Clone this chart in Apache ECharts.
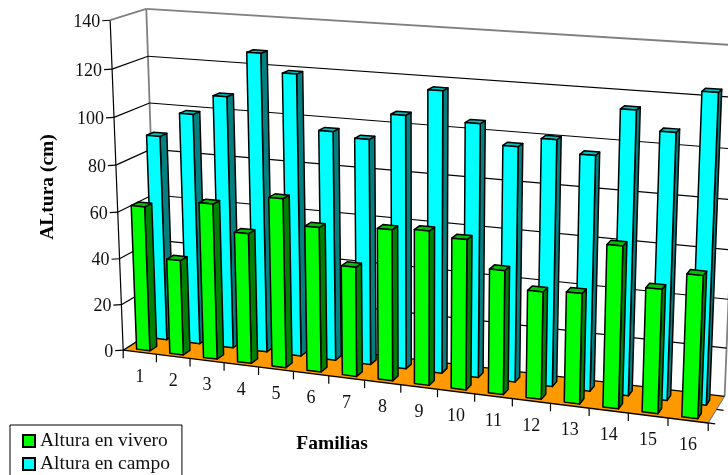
<!DOCTYPE html>
<html>
<head>
<meta charset="utf-8">
<style>html,body{margin:0;padding:0;background:#fff}#main{width:728px;height:475px}</style>
<script src="https://cdn.jsdelivr.net/npm/echarts@6/dist/echarts.min.js"></script>
</head>
<body>
<div id="main"></div>
<script>
// datos
let familias = ['1','2','3','4','5','6','7','8','9','10','11','12','13','14','15','16'];
let vivero = [62.5,41,66.5,55.5,71.5,61,46,63,64,62,51,44,45,65.5,50,57];
let campo = [89,99.5,108,127,119.5,97,95,106,117,105,97,101,96,115,107.5,124];
let yTicks = [0,20,40,60,80,100,120,140];

// escena: u = familias (0-16), d = profundidad (0 delante, 1 fondo), v = altura
let refs = [
    [0,0,0,122.7,350],[0,0,140,110,21],[0,1,140,146,9],[0,1,0,158,329],
    [16,0,0,708.7,422.7],[16,1,0,724,396.7],[16,1,140,739,45.7],
    [5,0,0,293.3,371.2],[10,0,0,474.7,393.7],
    [0,0,100,114.3,117.3],[0,1,100,149.7,102],[16,1,120,737,97.3]
];

// minimos cuadrados para la matriz de perspectiva
function solveCamera() {
    let rows = [];
    refs.forEach(function (r) {
        let u = r[0] / 16, d = r[1], v = r[2] / 140, x = r[3], y = r[4];
        rows.push([u,d,v,1,0,0,0,0,-x*u,-x*d,-x*v,x]);
        rows.push([0,0,0,0,u,d,v,1,-y*u,-y*d,-y*v,y]);
    });
    let n = 11, m = [];
    for (let i = 0; i < n; i++) {
        m.push([]);
        for (let j = 0; j <= n; j++) {
            let s = 0;
            rows.forEach(function (r) { s += r[i] * r[j]; });
            m[i].push(s);
        }
    }
    for (let i = 0; i < n; i++) {
        let p = i;
        for (let k = i + 1; k < n; k++) if (Math.abs(m[k][i]) > Math.abs(m[p][i])) p = k;
        let t = m[i]; m[i] = m[p]; m[p] = t;
        for (let k = 0; k < n; k++) {
            if (k == i) continue;
            let f = m[k][i] / m[i][i];
            for (let j = i; j <= n; j++) m[k][j] -= f * m[i][j];
        }
    }
    return m.map(function (r, i) { return r[n] / r[i]; });
}
let cam = solveCamera();

function project(u, d, v) {
    u = u / 16; v = v / 140;
    let w = cam[8]*u + cam[9]*d + cam[10]*v + 1;
    return [(cam[0]*u + cam[1]*d + cam[2]*v + cam[3]) / w,
            (cam[4]*u + cam[5]*d + cam[6]*v + cam[7]) / w];
}

function poly(points, fill, stroke, lw) {
    return {
        type: 'polygon',
        shape: { points: points },
        style: { fill: fill, stroke: stroke, lineWidth: lw, lineJoin: 'round' }
    };
}
function line(a, b, color, lw) {
    return {
        type: 'line',
        shape: { x1: a[0], y1: a[1], x2: b[0], y2: b[1] },
        style: { stroke: color, lineWidth: lw }
    };
}
function label(text, pos, align) {
    return {
        type: 'text',
        style: {
            text: text, x: pos[0], y: pos[1], align: align, verticalAlign: 'middle',
            font: '18px "Liberation Serif"', fill: '#111'
        }
    };
}

// la cuadricula ocupa todo el lienzo: el pixel del eje da (u, v) en la escena
function scene(api, i, val) {
    let p = api.coord([i, val]);
    let band = api.size([1, 0])[0];
    return [p[0] / band, (475 - p[1]) / 475 * 140];
}

// columna 3D: frente, lado derecho y tapa
function barItem(d0, d1, front, side, top) {
    return function (params, api) {
        let s = scene(api, api.value(0), api.value(1));
        let u0 = s[0] - 0.2, u1 = s[0] + 0.2, v = s[1];
        return {
            type: 'group',
            children: [
                poly([project(u1,d0,0), project(u1,d1,0), project(u1,d1,v), project(u1,d0,v)], side, '#000', 1.5),
                poly([project(u0,d0,v), project(u1,d0,v), project(u1,d1,v), project(u0,d1,v)], top, '#000', 1.5),
                poly([project(u0,d0,0), project(u1,d0,0), project(u1,d0,v), project(u0,d0,v)], front, '#000', 1.5)
            ]
        };
    };
}

function yTickItem(params, api) {
    let v = scene(api, 0, api.value(0))[1];
    let top = v > 139.9;
    let color = top ? '#808080' : '#000';
    let lw = top ? 1.8 : 1.2;
    let a = project(0,0,v), b = project(0,1,v), c = project(16,1,v);
    return {
        type: 'group',
        children: [
            line(a, b, color, lw),
            line(b, c, color, lw),
            line(a, [a[0] - 8, a[1] + 0.5], '#000', 1.2),
            label(String(api.value(0)), [a[0] - 10, a[1] + 2], 'right')
        ]
    };
}

function xTickItem(params, api) {
    let s = scene(api, api.value(0), 0);
    let u = s[0];
    let a = project(u + 0.5, 0, 0);
    let m = project(u, 0, 0);
    return {
        type: 'group',
        children: [
            line(a, [a[0], a[1] + 8], '#000', 1.2),
            label(familias[api.value(0)], [m[0], m[1] + 25], 'center')
        ]
    };
}

function frameItem() {
    let r0 = project(16,0,0), r1 = project(16,0.5,0);
    return {
        type: 'group',
        children: [
            poly([project(0,0,0), project(16,0,0), project(16,1,0), project(0,1,0)], '#ff9900', null, 0),
            line(project(0,1,0), project(0,1,140), '#808080', 1.8),
            line(project(16,1,0), project(16,1,140), '#808080', 1.8),
            line(project(0,0,0), project(0,1,0), '#808080', 1.2),
            line(project(16,0,0), project(16,1,0), '#808080', 1.2),
            line(project(0,0,0), project(0,0,140), '#000', 1.2),
            line(project(0,0,0), project(16,0,0), '#000', 1.4),
            line(project(0,0,0), [project(0,0,0)[0], project(0,0,0)[1] + 8], '#000', 1.2),
            line(r0, [r0[0] + 7, r0[1] + 1], '#000', 1.2),
            line(r1, [r1[0] + 7, r1[1] + 1], '#000', 1.2)
        ]
    };
}

let myChart = echarts.init(document.getElementById('main'));
let option = {
    animation: false,
    backgroundColor: '#fff',
    grid: { left: 0, right: 0, top: 0, bottom: 0 },
    xAxis: { type: 'category', data: familias, show: false },
    yAxis: { type: 'value', min: 0, max: 140, interval: 20, show: false },
    legend: {
        data: ['Altura en vivero', 'Altura en campo'],
        orient: 'vertical',
        left: 10,
        top: 425,
        height: 90,
        padding: [6, 12, 6, 12],
        itemWidth: 12,
        itemHeight: 12,
        itemGap: 3,
        icon: 'rect',
        borderColor: '#000',
        borderWidth: 1,
        textStyle: { fontFamily: 'Liberation Serif', fontSize: 19.5, color: '#111' }
    },
    graphic: [
        {
            type: 'text', x: 48, y: 187, rotation: Math.PI / 2,
            style: { text: 'ALtura (cm)', align: 'center', verticalAlign: 'middle', font: 'bold 19.5px "Liberation Serif"', fill: '#000' }
        },
        {
            type: 'text', x: 332, y: 444,
            style: { text: 'Familias', align: 'center', verticalAlign: 'middle', font: 'bold 19.5px "Liberation Serif"', fill: '#000' }
        }
    ],
    series: [
        { type: 'custom', name: 'marco', z: 1, clip: false, silent: true, data: [[0, 0]], renderItem: frameItem },
        { type: 'custom', name: 'ejeY', z: 1, clip: false, silent: true, data: yTicks.map(function (v) { return [v]; }), encode: { y: 0 }, renderItem: yTickItem },
        { type: 'custom', name: 'ejeX', z: 1, clip: false, silent: true, data: familias.map(function (f, i) { return [i, 0]; }), encode: { x: 0, y: 1 }, renderItem: xTickItem },
        {
            type: 'custom', name: 'Altura en campo', z: 2, clip: false,
            itemStyle: { color: '#00ffff', borderColor: '#000', borderWidth: 1.3 },
            data: campo.map(function (v, i) { return [i, v]; }), encode: { x: 0, y: 1 },
            renderItem: barItem(0.6, 0.8, '#00ffff', '#008080', '#00c0c0')
        },
        {
            type: 'custom', name: 'Altura en vivero', z: 3, clip: false,
            itemStyle: { color: '#00ff00', borderColor: '#000', borderWidth: 1.3 },
            data: vivero.map(function (v, i) { return [i, v]; }), encode: { x: 0, y: 1 },
            renderItem: barItem(0.1, 0.3, '#00ff00', '#008000', '#00c000')
        }
    ]
};
myChart.setOption(option);
</script>
</body>
</html>
